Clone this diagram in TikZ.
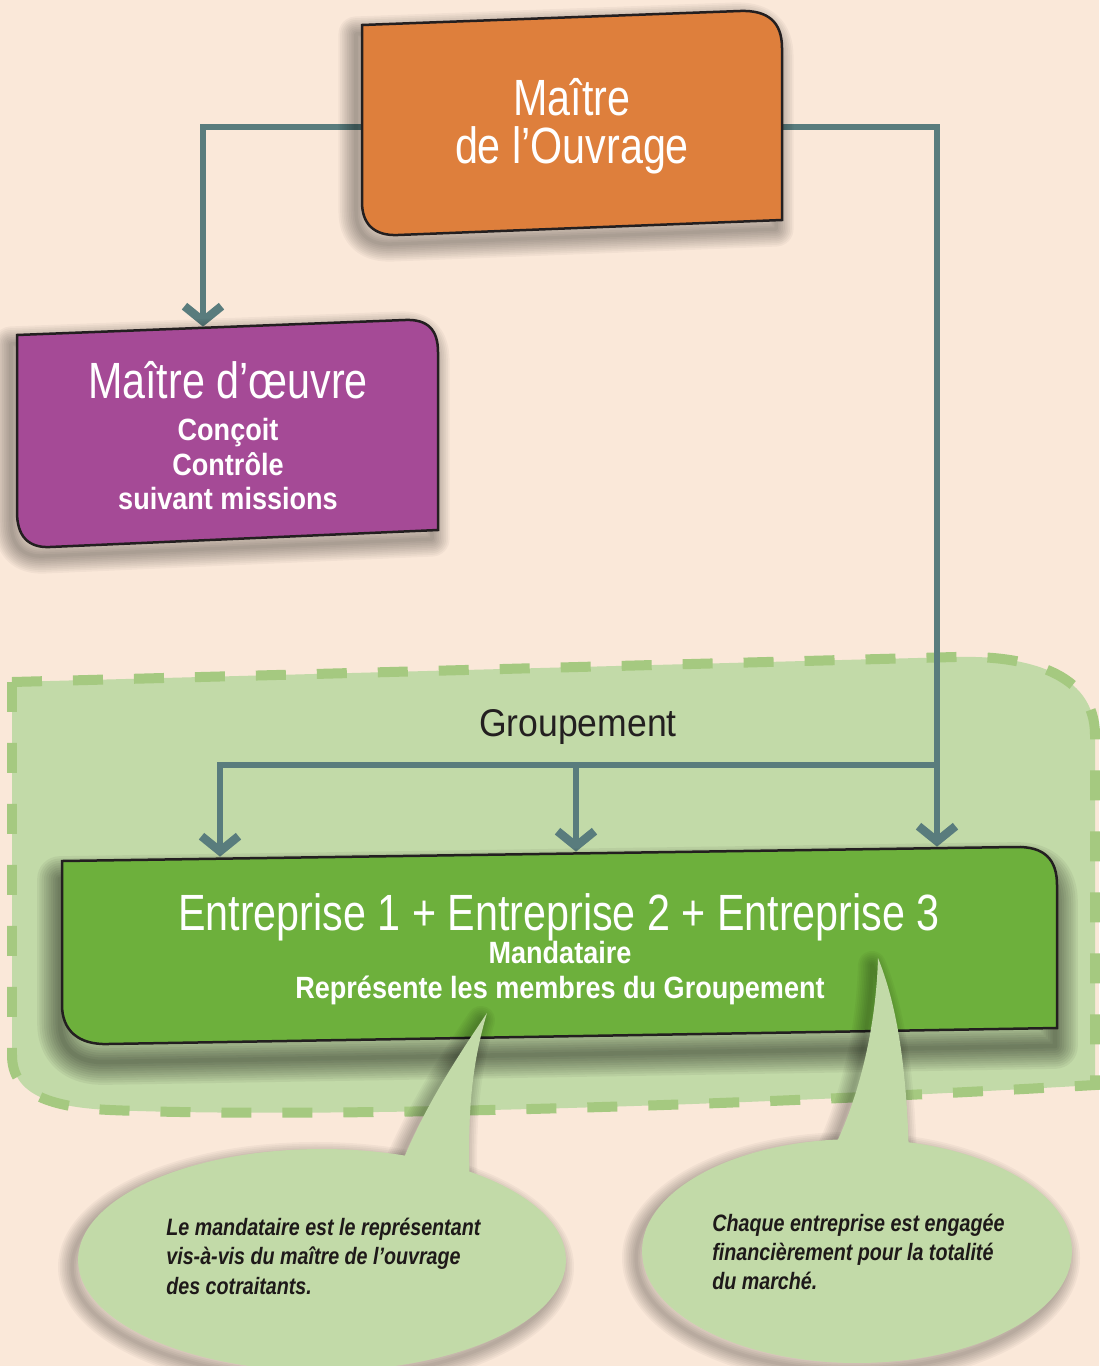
\documentclass[tikz,border=0pt]{standalone}
\usepackage{fontspec}
\setmainfont{Liberation Sans}
\newfontfamily\lightf{Liberation Sans}[FakeStretch=0.81]
\newfontfamily\condf{Liberation Sans}[FakeStretch=0.88]
\newfontfamily\grpf{Liberation Sans}[FakeStretch=0.92]
\newfontfamily\notef{Liberation Sans}[FakeStretch=0.83]
\usetikzlibrary{arrows.meta,calc}

\definecolor{bgcol}{RGB}{250,232,217}
\definecolor{orangebox}{RGB}{222,127,60}
\definecolor{purplebox}{RGB}{165,74,150}
\definecolor{greenbox}{RGB}{109,176,60}
\definecolor{palegreen}{RGB}{194,218,168}
\definecolor{dashgreen}{RGB}{165,201,128}
\definecolor{conncol}{RGB}{89,124,125}
\definecolor{edgecol}{RGB}{35,31,32}
\definecolor{notecol}{RGB}{30,25,25}

% outlines of the boxes and bubbles (pixel-like units)
\newcommand\pathOuvrage{(362,25) -- (740,11)
  .. controls (768,10) and (782,22) .. (782,48) -- (782,220) -- (398,235)
  .. controls (374,236) and (362,224) .. (362,202) -- cycle}
\newcommand\pathOeuvre{(17,335) -- (405,320)
  .. controls (428,319) and (438,330) .. (438,352) -- (438,530) -- (50,547)
  .. controls (28,548) and (17,536) .. (17,512) -- cycle}
\newcommand\pathEntr{(62,861) -- (1015,847)
  .. controls (1045,846) and (1057,860) .. (1057,885) -- (1057,1028) -- (108,1044)
  .. controls (78,1045) and (62,1030) .. (62,1005) -- cycle}
\newcommand\pathTailA{(401,1165)
  .. controls (425,1105) and (462,1050) .. (487,1013)
  .. controls (476,1050) and (466,1100) .. (470,1185) -- cycle}
\newcommand\pathBubA{(322,1260) ellipse [x radius=4.88cm, y radius=2.22cm]}
\newcommand\pathTailB{(833,1150)
  .. controls (858,1100) and (876,1030) .. (878,958)
  .. controls (895,1000) and (907,1060) .. (909,1160) -- cycle}
\newcommand\pathBubB{(857,1251) ellipse [x radius=4.3cm, y radius=2.24cm]}

\begin{document}
\begin{tikzpicture}[x=0.02cm, y=-0.02cm,
  shadowlayer/.style={draw=black, line join=round},
  boxshape/.style={draw=edgecol, line width=0.05cm},
  anchorbox/.style={draw=none, inner sep=0pt},
  conn/.style={draw=conncol, line width=0.12cm,
    -{Straight Barb[sharp, length=0.3cm, width=0.74cm, line width=0.17cm]}},
  titletext/.style={text=white, inner sep=0pt, font=\lightf\fontsize{29pt}{30pt}\selectfont},
  boldtext/.style={text=white, inner sep=0pt, anchor=base,
    font=\condf\bfseries\fontsize{17.5pt}{19pt}\selectfont},
  grptext/.style={text=edgecol, inner sep=0pt, font=\grpf\fontsize{22pt}{24pt}\selectfont},
  notetext/.style={text=notecol, inner sep=0pt, anchor=base west,
    font=\notef\bfseries\itshape\fontsize{13.5pt}{15pt}\selectfont},
  grpborder/.style={draw=dashgreen, line width=0.2cm, dash pattern=on 0.6cm off 0.62cm}
]
\useasboundingbox (0,0) rectangle (1099,1366);
\fill[bgcol] (0,0) rectangle (1099,1366);

% the Groupement area
\path[fill=palegreen, grpborder] (12,682) -- (955,657)
  .. controls (1025,655) and (1095,672) .. (1095,735) -- (1095,1085)
  .. controls (700,1108) and (300,1118) .. (110,1110)
  .. controls (45,1107) and (12,1092) .. (12,1055) -- cycle;

% anchor boxes for the three parties
\node[anchorbox, minimum width=8.4cm, minimum height=4.2cm] (mo) at (572,127) {};
\node[anchorbox, minimum width=8.42cm, minimum height=4.4cm] (moe) at (228,436) {};
\node[anchorbox, minimum width=19.9cm, minimum height=3.96cm] (ent) at (560,946) {};
\coordinate (split) at (937,765);

% connectors
\draw[conn] (mo.west) -| ($(moe.north)+(-25,1)$);
\draw[conn] (mo.east) -| ($(ent.north)+(377,0)$);
\draw[conn] (split) -| ($(ent.north)+(-340,10)$);
\draw[conn] ($(split -| ent.north)+(16,0)$) -- ($(ent.north)+(16,5)$);

% soft shadows: stacked translucent strokes around a shifted outline
\foreach \k in {1,...,10}{
  \path[shadowlayer, opacity=0.035, line width=\k*2pt, shift={(-6,9)}] \pathOuvrage;
  \path[shadowlayer, opacity=0.035, line width=\k*2pt, shift={(-6,9)}] \pathOeuvre;
  \path[shadowlayer, opacity=0.05, line width=\k*2.6pt, shift={(-2,18)}] \pathEntr;
}

% boxes
\path[boxshape, fill=orangebox] \pathOuvrage;
\path[boxshape, fill=purplebox] \pathOeuvre;
\path[boxshape, fill=greenbox] \pathEntr;

% speech bubbles
\foreach \k in {1,...,8}{
  \path[shadowlayer, opacity=0.035, line width=\k*2pt, shift={(-6,7)}] \pathTailA;
  \path[shadowlayer, opacity=0.035, line width=\k*2pt, shift={(-6,7)}] \pathBubA;
  \path[shadowlayer, opacity=0.035, line width=\k*2pt, shift={(-6,7)}] \pathTailB;
  \path[shadowlayer, opacity=0.035, line width=\k*2pt, shift={(-6,7)}] \pathBubB;
}
\fill[palegreen] \pathTailA;
\fill[palegreen] \pathBubA;
\fill[palegreen] \pathTailB;
\fill[palegreen] \pathBubB;

% texts
\node[titletext, anchor=base] (moA) at (572,115) {Maître};
\node[titletext, anchor=base] (moB) at (572,163) {de l’Ouvrage};

\node[titletext, anchor=base] (moeA) at (228,398) {Maître d’œuvre};
\node[boldtext] (moeB) at (228,440) {Conçoit};
\node[boldtext] (moeC) at (228,475) {Contrôle};
\node[boldtext] (moeD) at (228,509) {suivant missions};

\node[grptext, anchor=base] (grp) at (578,736) {Groupement};

\node[titletext, anchor=base] (entA) at (559,930) {Entreprise 1 + Entreprise 2 + Entreprise 3};
\node[boldtext] (entB) at (560,963) {Mandataire};
\node[boldtext] (entC) at (560,998) {Représente les membres du Groupement};

\node[notetext] (noteA1) at (166,1235) {Le mandataire est le représentant};
\node[notetext] (noteA2) at (166,1264) {vis-à-vis du maître de l’ouvrage};
\node[notetext] (noteA3) at (166,1294) {des cotraitants.};

\node[notetext] (noteB1) at (712,1231) {Chaque entreprise est engagée};
\node[notetext] (noteB2) at (712,1260) {financièrement pour la totalité};
\node[notetext] (noteB3) at (712,1289) {du marché.};
\end{tikzpicture}
\end{document}
